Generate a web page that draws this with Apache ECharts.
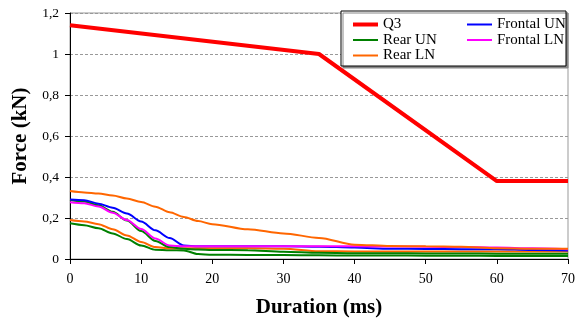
<!DOCTYPE html>
<html>
<head>
<meta charset="utf-8">
<script src="https://cdn.jsdelivr.net/npm/echarts@6/dist/echarts.min.js"></script>
<style>
  html, body { margin: 0; padding: 0; background: #fff; }
  #chart { width: 576px; height: 320px; }
</style>
</head>
<body>
<div id="chart"></div>
<script>
// Sample times (ms) shared by the measured force curves
const durationMs = [0, 2, 4, 6, 8, 10, 12, 14, 16, 18, 20, 25, 30, 35, 40, 45, 50, 55, 60, 65, 70];

// Q3 reference corridor
const q3Time = [0, 35, 60, 70];
const q3Force = [1.14, 1.0, 0.38, 0.38];

// Measured forces (kN)
const frontalUN = [0.29, 0.287, 0.27, 0.25, 0.222, 0.183, 0.14, 0.102, 0.066, 0.062, 0.062, 0.062, 0.062, 0.06, 0.056, 0.05, 0.049, 0.048, 0.048, 0.044, 0.042];
const frontalLN = [0.277, 0.272, 0.256, 0.226, 0.19, 0.146, 0.1, 0.066, 0.062, 0.062, 0.062, 0.062, 0.062, 0.062, 0.062, 0.061, 0.06, 0.058, 0.056, 0.052, 0.048];
const rearUN1 = [0.288, 0.28, 0.262, 0.23, 0.188, 0.136, 0.088, 0.058, 0.05, 0.046, 0.044, 0.043, 0.035, 0.03, 0.028, 0.028, 0.027, 0.027, 0.026, 0.026, 0.026];
const rearUN2 = [0.174, 0.165, 0.15, 0.125, 0.097, 0.066, 0.045, 0.043, 0.042, 0.024, 0.021, 0.02, 0.019, 0.018, 0.017, 0.017, 0.016, 0.016, 0.015, 0.015, 0.015];
const rearLN1 = [0.332, 0.325, 0.32, 0.31, 0.295, 0.278, 0.255, 0.228, 0.205, 0.185, 0.17, 0.145, 0.125, 0.103, 0.07, 0.063, 0.062, 0.06, 0.052, 0.05, 0.05];
const rearLN2 = [0.19, 0.183, 0.17, 0.145, 0.115, 0.083, 0.058, 0.052, 0.052, 0.052, 0.052, 0.052, 0.05, 0.038, 0.037, 0.037, 0.036, 0.036, 0.036, 0.036, 0.036];

const FONT = '"Liberation Serif", "DejaVu Serif", serif';

function pairs(xs, ys) { return xs.map((x, i) => [x, ys[i]]); }

function curve(name, color, values, width) {
  return {
    name: name,
    type: 'line',
    data: pairs(durationMs, values),
    symbol: 'none',
    smooth: 0.3,
    smoothMonotone: 'x',
    lineStyle: { color: color, width: width || 2 },
    itemStyle: { color: color },
    emphasis: { disabled: true },
    animation: false
  };
}

// Legend block: a framed box holding three small legends laid out in two columns
function legendBlock(names, left, top, lineThickness) {
  return {
    orient: 'vertical', left: left, top: top, z: 5,
    icon: 'rect', itemWidth: 25, itemHeight: lineThickness, itemGap: 0.5,
    data: names, selectedMode: false,
    textStyle: { fontFamily: FONT, fontSize: 15, color: '#000', lineHeight: 15 }
  };
}

const chart = echarts.init(document.getElementById('chart'), null, { renderer: 'canvas' });

chart.setOption({
  animation: false,
  grid: {
    left: 70, right: 8, top: 13, bottom: 61,
    outerBoundsMode: 'none',
    containLabel: false,
    show: true, borderColor: '#999', borderWidth: 1, backgroundColor: 'transparent'
  },
  graphic: [{
    type: 'rect',
    z: 3,
    shape: { x: 341, y: 11, width: 225, height: 55 },
    style: { fill: '#fff', stroke: '#000', lineWidth: 1, shadowColor: '#888', shadowOffsetX: 2, shadowOffsetY: 2, shadowBlur: 0 }
  }],
  legend: [
    legendBlock(['Q3'], 348, 12, 4),
    legendBlock(['Rear UN', 'Rear LN'], 348, 27.5, 2),
    legendBlock(['Frontal UN', 'Frontal LN'], 462, 12, 2)
  ],
  xAxis: {
    type: 'value', min: 0, max: 70, interval: 10,
    name: 'Duration (ms)', nameLocation: 'middle', nameGap: 38,
    nameTextStyle: { fontFamily: FONT, fontSize: 21, fontWeight: 'bold', color: '#000' },
    axisLine: { lineStyle: { color: '#000', width: 1 } },
    axisTick: { show: true, length: 5, lineStyle: { color: '#000' } },
    axisLabel: { fontFamily: FONT, fontSize: 14, color: '#000', margin: 13 },
    splitLine: { show: false }
  },
  yAxis: {
    type: 'value', min: 0, max: 1.2, interval: 0.2,
    name: 'Force (kN)', nameLocation: 'middle', nameGap: 35,
    nameTextStyle: { fontFamily: FONT, fontSize: 21, fontWeight: 'bold', color: '#000' },
    axisLine: { show: true, lineStyle: { color: '#000', width: 1 } },
    axisTick: { show: true, length: 5, lineStyle: { color: '#000' } },
    axisLabel: {
      fontFamily: FONT, fontSize: 13.5, color: '#000', margin: 11,
      formatter: v => String(Math.round(v * 10) / 10).replace('.', ',')
    },
    splitLine: { show: true, lineStyle: { color: '#999', width: 1, type: [3, 2] } }
  },
  series: [
    curve('Rear UN', '#008000', rearUN2),
    curve('Rear LN', '#ff6600', rearLN2),
    curve('Rear UN', '#008000', rearUN1),
    curve('Frontal UN', '#0000ff', frontalUN),
    curve('Frontal LN', '#ff00ff', frontalLN),
    curve('Rear LN', '#ff6600', rearLN1),
    {
      name: 'Q3',
      type: 'line',
      data: pairs(q3Time, q3Force),
      symbol: 'none',
      lineStyle: { color: '#ff0000', width: 4 },
      itemStyle: { color: '#ff0000' },
      emphasis: { disabled: true },
      animation: false
    }
  ]
});
</script>
</body>
</html>
